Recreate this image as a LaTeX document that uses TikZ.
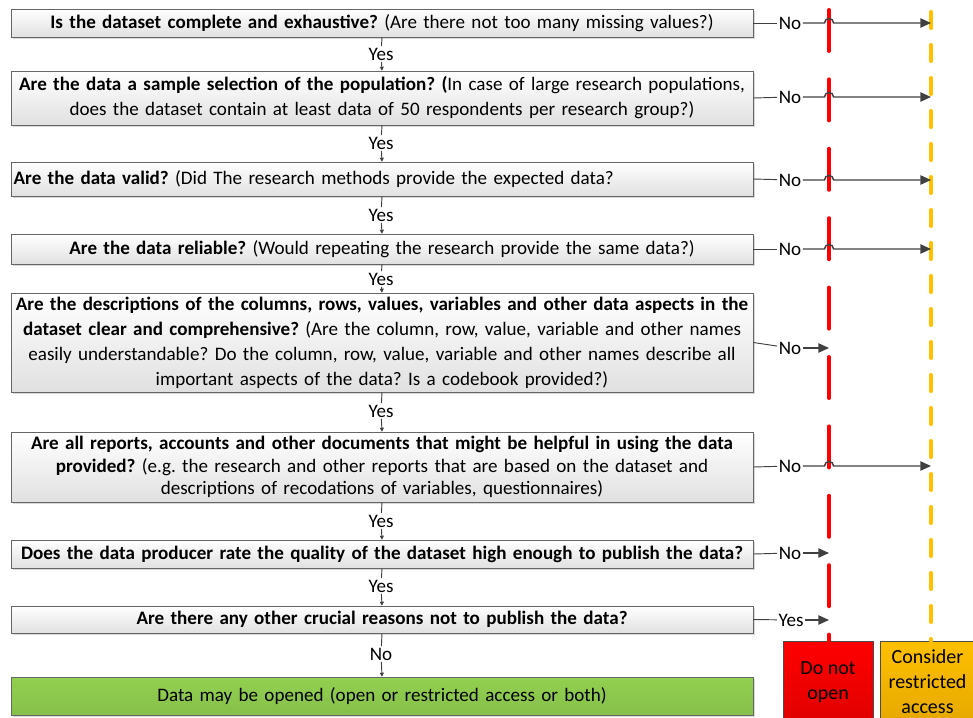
\documentclass[tikz,border=0pt]{standalone}
\usepackage{fontspec}
\setmainfont{Carlito}
\usetikzlibrary{arrows.meta, shadows, calc}

\definecolor{stopred}{HTML}{FF0000}
\definecolor{stopdark}{HTML}{E00000}
\definecolor{gold}{HTML}{FFC000}
\definecolor{golddark}{HTML}{E6A800}
\definecolor{okgreen}{HTML}{92D050}
\definecolor{linegray}{HTML}{404040}

\begin{document}
\frenchspacing
\begin{tikzpicture}[
    x=0.75pt, y=-0.75pt,
    font=\fontsize{14.3}{17.5}\selectfont,
    question/.style={rectangle, draw=black!60, top color=white, bottom color=black!12,
        drop shadow={shadow xshift=1.5pt, shadow yshift=-1.5pt, fill=black!30, opacity=0.5},
        text width=552.5pt, inner xsep=2pt, inner ysep=0pt, align=center},
    result/.style={rectangle, draw=black!70, inner sep=0pt, align=center,
        minimum width=67.5pt, minimum height=61.5pt, font=\fontsize{15}{18.75}\selectfont},
    answer/.style={inner sep=1pt},
    flow/.style={draw=linegray, line width=0.7pt},
    down/.style={flow, -{Triangle[length=3pt, width=3pt]}},
    arrow/.style={draw=linegray, line width=1.1pt, -{Triangle[length=8pt, width=7pt]}},
    redline/.style={draw=stopred, line width=3pt, line cap=round, dash pattern=on 30.75pt off 21.3pt},
    goldline/.style={draw=gold, line width=3pt, line cap=round, dash pattern=on 12pt off 12.75pt}
]
\clip (0,0) rectangle (973,717);

% Questions
\node[question, minimum height=21pt] (q1) at (382,23)
    {\textbf{Is the dataset complete and exhaustive?} (Are there not too many missing values?)};
\node[question, minimum height=40.5pt, font=\fontsize{14.3}{18.75}\selectfont] (q2) at (382,98)
    {\textbf{Are the data a sample selection of the population? (}In case of large research populations,\\
     does the dataset contain at least data of 50 respondents per research group?)};
\node[question, minimum height=25.5pt, align=left] (q3) at (382,179)
    {\textbf{Are the data valid?} (Did The research methods provide the expected data?};
\node[question, minimum height=22.5pt] (q4) at (382,249)
    {\textbf{Are the data reliable?} (Would repeating the research provide the same data?)};
\node[question, minimum height=74.25pt, font=\fontsize{14.3}{18.75}\selectfont] (q5) at (382,342.5)
    {\textbf{Are the descriptions of the columns, rows, values, variables and other data aspects in the}\\
     \textbf{dataset clear and comprehensive?} (Are the column, row, value, variable and other names\\
     easily understandable? Do the column, row, value, variable and other names describe all\\
     important aspects of the data? Is a codebook provided?)};
\node[question, minimum height=52.5pt, font=\fontsize{14.3}{17}\selectfont] (q6) at (382,467)
    {\textbf{Are all reports, accounts and other documents that might be helpful in using the data}\\
     \textbf{provided?} (e.g. the research and other reports that are based on the dataset and\\
     descriptions of recodations of variables, questionnaires)};
\node[question, minimum height=21pt] (q7) at (382,554)
    {\textbf{Does the data producer rate the quality of the dataset high enough to publish the data?}};
\node[question, minimum height=20.25pt] (q8) at (382,619.5)
    {\textbf{Are there any other crucial reasons not to publish the data?}};
\node[question, minimum height=28.5pt, top color=okgreen, bottom color=okgreen!92!black] (open) at (382,696)
    {Data may be opened (open or restricted access or both)};

% Yes / No between the questions
\node[answer] (y1) at (381,54) {Yes};
\node[answer] (y2) at (381,143) {Yes};
\node[answer] (y3) at (381,215) {Yes};
\node[answer] (y4) at (381,279) {Yes};
\node[answer] (y5) at (381,411) {Yes};
\node[answer] (y6) at (381,521) {Yes};
\node[answer] (y7) at (381,586) {Yes};
\node[answer] (y8) at (381,654) {No};

\draw[flow] (q1.south) -- (y1);  \draw[down] (y1) -- (q2.north);
\draw[flow] (q2.south) -- (y2);  \draw[down] (y2) -- (q3.north);
\draw[flow] (q3.south) -- (y3);  \draw[down] (y3) -- (q4.north);
\draw[flow] (q4.south) -- (y4);  \draw[down] (y4) -- (q5.north);
\draw[flow] (q5.south) -- (y5);  \draw[down] (y5) -- (q6.north);
\draw[flow] (q6.south) -- (y6);  \draw[down] (y6) -- (q7.north);
\draw[flow] (q7.south) -- (y7);  \draw[down] (y7) -- (q8.north);
\draw[flow] (q8.south) -- (y8);  \draw[down] (y8) -- (open.north);

% Outcomes
\node[result, top color=stopred, bottom color=stopdark] (stop) at (828,682) {Do not\\open};
\node[result, top color=gold, bottom color=golddark, minimum width=71.25pt] (restr) at (927.5,682)
    {Consider\\restricted\\access};

\coordinate (rtop) at (829,10);
\coordinate (otop) at (931,12);
\draw[redline] (rtop) -- (rtop |- stop.north);
\draw[goldline] (otop) -- (otop |- restr.north);

% No branches
\node[answer] (n1) at (790,23) {No};
\node[answer] (n2) at (790,97) {No};
\node[answer] (n3) at (790,180) {No};
\node[answer] (n4) at (790,249) {No};
\node[answer] (n5) at (790,348) {No};
\node[answer] (n6) at (790,466) {No};
\node[answer] (n7) at (790,553) {No};
\node[answer] (n8) at (791,620) {Yes};

\foreach \q in {1,...,8}
    \draw[flow] (q\q.east) -- (n\q);

% to restricted access, hopping over the red line
\foreach \n in {n1,n2,n3,n4,n6}
    \draw[arrow] (\n) -- ($(\n -| rtop)+(-4.5,0)$) arc[start angle=180, end angle=0, radius=3.4pt]
        -- (\n -| otop);

% to do not open
\draw[arrow] (n5) -- (n5 -| rtop);
\draw[arrow] (n7) -- (n7 -| rtop);
\draw[arrow] (n8) -- (n8 -| rtop);

\end{tikzpicture}
\end{document}
